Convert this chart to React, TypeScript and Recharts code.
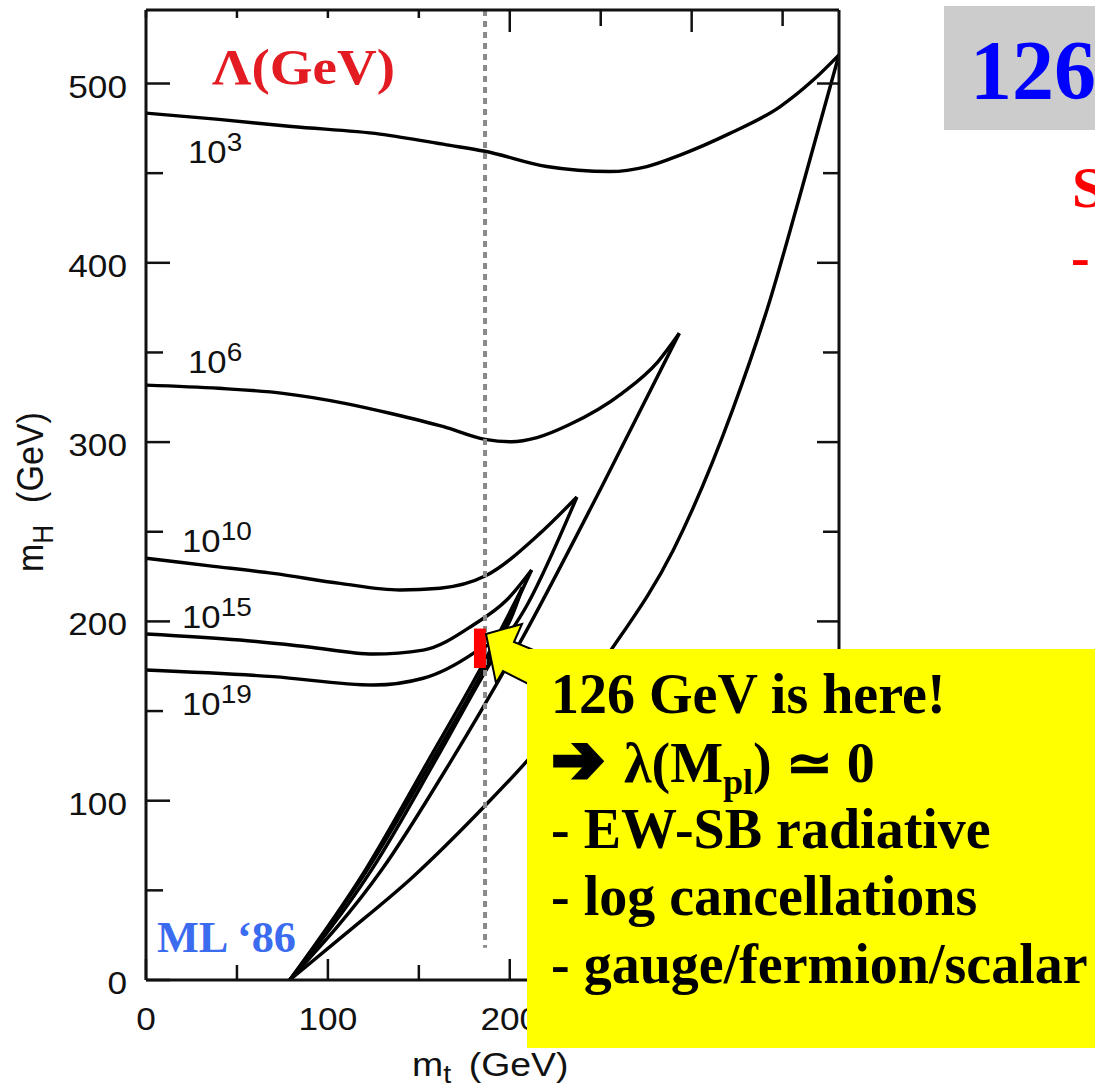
import React from 'react';
import { LineChart, Line, XAxis, YAxis, ReferenceDot } from 'recharts';

// ---- axes ----
const MT_TICKS = [0, 50, 100, 150, 200, 250, 300, 350];
const MH_TICKS = [0, 50, 100, 150, 200, 250, 300, 350, 400, 450, 500];
const MT_DOMAIN: [number, number] = [0, 381];
const MH_DOMAIN: [number, number] = [0, 541];

// ---- curves: [m_t, m_H] (GeV) ----
const UPPER_1E3 = [[0, 483.5], [40, 480], [80, 476], [128.6, 471.8], [165.3, 465.8], [186.4, 462.2], [220.3, 453.7], [255, 450.9], [275.3, 453.7], [293.6, 460.1], [321, 472.2], [348.5, 487], [366.8, 501.9], [381, 516]];
const LOWER_1E3 = [[79, 0], [110, 26], [146.7, 57.5], [185.7, 96.5], [210, 122.8], [255, 183], [290, 240], [322.5, 318], [343, 379], [358, 432], [381, 516]];

const UPPER_1E6 = [[0, 331.8], [40, 330], [75.3, 327.2], [110, 321.5], [134.1, 316.1], [163.6, 308.6], [186.4, 301.5], [200.9, 300.2], [215, 302.5], [232.3, 309.5], [261.7, 327.2], [281.4, 344.8], [293.2, 360.7]];
const LOWER_1E6 = [[79, 0], [130, 62], [167, 121], [205.5, 188], [250, 274], [293.2, 360.7]];

const UPPER_1E10 = [[0, 235.2], [35, 231], [70, 226.8], [106.7, 221.2], [139.6, 217.5], [161.6, 218.5], [186.4, 225.3], [216.6, 249.1], [236.9, 269.4]];
const LOWER_1E10 = [[79, 0], [125, 63], [160, 124], [190, 178], [210, 210], [236.9, 269.4]];

const UPPER_1E15 = [[0, 193], [51.7, 189.6], [88.3, 185.9], [125, 181.8], [152.4, 184], [179.9, 198], [198.3, 211.9], [212, 228.7]];
const LOWER_1E15 = [[79, 0], [122, 62], [157, 122], [185, 172], [212, 228.7]];

const UPPER_1E19 = [[0, 172.9], [70, 169.2], [125, 164.5], [152.4, 168.3], [179.9, 182.2], [198.3, 197], [207, 219]];
const LOWER_1E19 = [[79, 0], [121, 62], [155, 122], [183, 172], [207, 219]];

// top-quark mass guide line and the 126 GeV marker
const MT_GUIDE = [[186.4, 541], [186.4, 18]];
const MARKER = [[183.6, 196], [183.6, 174]];

// curve labels: [m_t, m_H, exponent]
const CURVE_LABELS: [number, number, string][] = [
  [23.1, 455.7, '3'],
  [23.1, 338.5, '6'],
  [19.8, 238.7, '10'],
  [19.8, 196.3, '15'],
  [19.8, 147.8, '19'],
];

const toData = (pts: number[][]) => pts.map(([mt, mH]) => ({ mt, mH }));

const SANS = "'Liberation Sans', Arial, Helvetica, sans-serif";
const SERIF = "'Liberation Serif', 'Times New Roman', Times, serif";
const INK = '#111';

const BottomTick = (props: any) => {
  const { x, y, payload } = props;
  const v = payload.value;
  const major = v % 100 === 0;
  return (
    <g>
      <line x1={x} y1={y} x2={x} y2={y - (major ? 21 : 15)} stroke={INK} strokeWidth={2.5} />
      {major && (
        <text transform={`translate(${x},${y + 50}) scale(1.1,1)`} textAnchor="middle" fontFamily={SANS} fontSize={32} fill={INK}>
          {v}
        </text>
      )}
    </g>
  );
};

const TopTick = (props: any) => {
  const { x, y, payload } = props;
  const v = payload.value;
  const len = v <= 150 ? 8 : v % 100 === 0 ? 22 : 16;
  return <line x1={x} y1={y} x2={x} y2={y + len} stroke={INK} strokeWidth={2.5} />;
};

const LeftTick = (props: any) => {
  const { x, y, payload } = props;
  const v = payload.value;
  const major = v % 100 === 0;
  return (
    <g>
      <line x1={x} y1={y} x2={x + (major ? 24 : 17)} y2={y} stroke={INK} strokeWidth={2.5} />
      {major && (
        <text transform={`translate(${x - 19},${y + 14}) scale(1.1,1)`} textAnchor="end" fontFamily={SANS} fontSize={32} fill={INK}>
          {v}
        </text>
      )}
    </g>
  );
};

const RightTick = (props: any) => {
  const { x, y, payload } = props;
  const v = payload.value;
  const major = v % 100 === 0;
  return <line x1={x} y1={y} x2={x - (major ? 22 : 16)} y2={y} stroke={INK} strokeWidth={2.5} />;
};

const makeCurveLabel = (exp: string) => (p: any) => (
  <text transform={`translate(${p.cx},${p.cy}) scale(1.12,1)`} fontFamily={SANS} fontSize={31} fill={INK}>
    10
    <tspan fontSize={25} dy={-12}>{exp}</tspan>
  </text>
);

const curveProps = {
  type: 'monotone' as const,
  dataKey: 'mH',
  stroke: '#000',
  strokeWidth: 3.4,
  dot: false,
  activeDot: false,
  isAnimationActive: false,
};

const CURVES = [UPPER_1E3, LOWER_1E3, UPPER_1E6, LOWER_1E6, UPPER_1E10, LOWER_1E10, UPPER_1E15, LOWER_1E15, UPPER_1E19, LOWER_1E19];

export default function App() {
  return (
    <div style={{ position: 'absolute', left: 0, top: 0, width: 1095, height: 1088, overflow: 'hidden', background: '#fff' }}>
      <LineChart width={1095} height={1088} margin={{ top: 9, right: 255, bottom: 48, left: 66 }}>
        <XAxis
          dataKey="mt" type="number" domain={MT_DOMAIN} ticks={MT_TICKS} interval={0}
          tickSize={0} tickMargin={0} tickLine={false} tick={<BottomTick />} height={60}
          axisLine={{ stroke: INK, strokeWidth: 3 }} allowDataOverflow
        />
        <XAxis
          xAxisId="top" orientation="top" dataKey="mt" type="number" domain={MT_DOMAIN} ticks={MT_TICKS} interval={0}
          tickSize={0} tickMargin={0} tickLine={false} tick={<TopTick />} height={1}
          axisLine={{ stroke: INK, strokeWidth: 3 }} allowDataOverflow
        />
        <YAxis
          dataKey="mH" type="number" domain={MH_DOMAIN} ticks={MH_TICKS} interval={0}
          tickSize={0} tickMargin={0} tickLine={false} tick={<LeftTick />} width={80}
          axisLine={{ stroke: INK, strokeWidth: 3 }} allowDataOverflow
        />
        <YAxis
          yAxisId="right" orientation="right" dataKey="mH" type="number" domain={MH_DOMAIN} ticks={MH_TICKS} interval={0}
          tickSize={0} tickMargin={0} tickLine={false} tick={<RightTick />} width={1}
          axisLine={{ stroke: INK, strokeWidth: 3 }} allowDataOverflow
        />
        {CURVES.map((c, i) => (
          <Line key={i} {...curveProps} data={toData(c)} />
        ))}
        <Line
          type="linear" dataKey="mH" data={toData(MT_GUIDE)} stroke="#8a8a8a" strokeWidth={4}
          strokeDasharray="6 5" dot={false} activeDot={false} isAnimationActive={false}
        />
        <Line
          type="linear" dataKey="mH" data={toData(MARKER)} stroke="#ff0000" strokeWidth={12}
          strokeLinecap="butt" dot={false} activeDot={false} isAnimationActive={false}
        />
        {CURVE_LABELS.map(([mt, mH, exp]) => (
          <ReferenceDot key={exp} x={mt} y={mH} r={0} ifOverflow="visible" shape={makeCurveLabel(exp)} />
        ))}
      </LineChart>

      <svg width={1095} height={1088} style={{ position: 'absolute', left: 0, top: 0, pointerEvents: 'none' }}>
        {/* axis titles */}
        <text transform="translate(43,572) scale(1.1,1) rotate(-90)" fontFamily={SANS} fontSize={34} fill={INK}>
          m<tspan fontSize={26} dy={9}>H</tspan>
          <tspan dx={22} dy={-9}>(GeV)</tspan>
        </text>
        <text transform="translate(412,1076) scale(1.1,1)" fontFamily={SANS} fontSize={34} fill={INK}>
          m<tspan fontSize={26} dy={7}>t</tspan>
          <tspan dx={16} dy={-7}>(GeV)</tspan>
        </text>

        {/* in-plot annotations */}
        <text x={212} y={84} fontFamily={SERIF} fontWeight="bold" fontSize={50} fill="#e31b23" textLength={183} lengthAdjust="spacingAndGlyphs">
          Λ(GeV)
        </text>
        <text x={157} y={952} fontFamily={SERIF} fontWeight="bold" fontSize={44} fill="#3b6cf0" textLength={139} lengthAdjust="spacingAndGlyphs">
          ML ‘86
        </text>

        {/* slide title fragments */}
        <rect x={944} y={6} width={151} height={124} fill="#cccccc" />
        <text x={970} y={99} fontFamily={SERIF} fontWeight="bold" fontSize={84} fill="#0000ff">126</text>
        <text x={1072} y={207} fontFamily={SERIF} fontWeight="bold" fontSize={58} fill="#ff0000">S</text>
        <text x={1071} y={276} fontFamily={SERIF} fontWeight="bold" fontSize={56} fill="#ff0000">-</text>

        {/* callout arrow + box */}
        <polygon
          points="486,634 522,624 514,642 570,665 560,700 503,671 496,683"
          fill="#ffff00" stroke="#000" strokeWidth={2} strokeLinejoin="miter"
        />
        <rect x={527} y={649} width={568} height={399} fill="#ffff00" />
        <g fontFamily={SERIF} fontWeight="bold" fontSize={56} fill="#000">
          <text x={551} y={713}>126 GeV is here!</text>
          <text
            x={552} y={782} fontFamily="'DejaVu Sans', sans-serif" fontSize={66}
            stroke="#000" strokeWidth={5} strokeLinejoin="miter"
            textLength={52} lengthAdjust="spacingAndGlyphs"
          >
            ➔
          </text>
          <text x={624} y={782}>
            λ(M<tspan fontSize={36} dy={12}>pl</tspan>
            <tspan dy={-12}>) ≃ 0</tspan>
          </text>
          <text x={551} y={848}>- EW-SB radiative</text>
          <text x={551} y={915}>- log cancellations</text>
          <text x={551} y={983}>- gauge/fermion/scalar</text>
        </g>
      </svg>
    </div>
  );
}
